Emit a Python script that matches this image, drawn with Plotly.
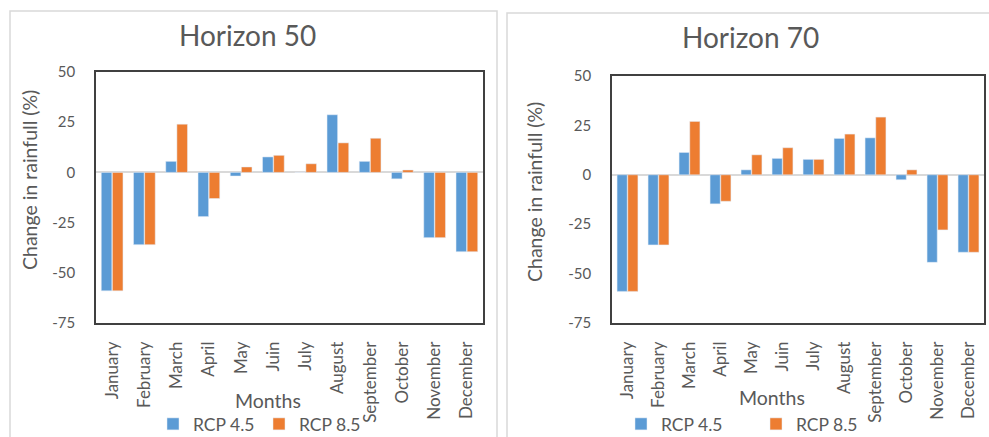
import plotly.graph_objects as go

months = ["January", "February", "March", "April", "May", "Juin", "July",
          "August", "September", "October", "November", "December"]

h50_rcp45 = [-59, -36, 5.5, -22, -1.8, 7.7, 0, 28.7, 5.5, -3.2, -32.5, -39.5]
h50_rcp85 = [-59, -36, 24, -13, 2.7, 8.5, 4.3, 14.7, 17, 1.2, -32.5, -39.5]

h70_rcp45 = [-59, -35.5, 11.3, -14.7, 2.5, 8.3, 7.8, 18.4, 18.7, -2.5, -44.3, -39.2]
h70_rcp85 = [-59, -35.5, 27, -13.4, 10.1, 13.7, 7.8, 20.6, 29.2, 2.5, -27.9, -39.2]

y_ticks = [-75, -50, -25, 0, 25, 50]
y_tick_text = ["-75", "-50", "-25", "0", "25", "50"]

BLUE = "#5B9BD5"
ORANGE = "#ED7D31"
GRAY = "#595959"
FONT = "Lato"

W, H = 989, 437

def px(x):
    return x / W

def py(y):
    return 1 - y / H

fig = go.Figure()

fig.add_trace(go.Bar(x=months, y=h50_rcp45, name="RCP 4.5", marker_color=BLUE,
                     xaxis="x", yaxis="y", legend="legend"))
fig.add_trace(go.Bar(x=months, y=h50_rcp85, name="RCP 8.5", marker_color=ORANGE,
                     xaxis="x", yaxis="y", legend="legend"))
fig.add_trace(go.Bar(x=months, y=h70_rcp45, name="RCP 4.5", marker_color=BLUE,
                     xaxis="x2", yaxis="y2", legend="legend2"))
fig.add_trace(go.Bar(x=months, y=h70_rcp85, name="RCP 8.5", marker_color=ORANGE,
                     xaxis="x2", yaxis="y2", legend="legend2"))

xcommon = dict(showline=True, mirror=True, linecolor="#404040", linewidth=1.5,
               showgrid=False, ticks="", tickangle=-90, automargin=False,
               tickfont=dict(family=FONT, size=17, color=GRAY),
               ticklabelstandoff=10, zeroline=False)
ycommon = dict(showline=True, mirror=True, linecolor="#404040", linewidth=1.5,
               showgrid=False, ticks="", range=[-75, 50], tickvals=y_ticks,
               ticktext=y_tick_text, automargin=False,
               tickfont=dict(family=FONT, size=15, color=GRAY),
               ticklabelstandoff=16, zeroline=True, zerolinecolor="#D9D9D9",
               zerolinewidth=2)

fig.update_layout(
    width=W, height=H,
    margin=dict(l=0, r=0, t=0, b=0, autoexpand=False),
    paper_bgcolor="white", plot_bgcolor="white",
    barmode="group", bargap=0.31, bargroupgap=0.05,
    font=dict(family=FONT, color=GRAY),
    xaxis=dict(domain=[px(96), px(483)], anchor="y", **xcommon),
    yaxis=dict(domain=[py(323), py(72)], anchor="x", **ycommon),
    xaxis2=dict(domain=[px(612), px(984)], anchor="y2", **xcommon),
    yaxis2=dict(domain=[py(323), py(76)], anchor="x2", **ycommon),
    legend=dict(orientation="h", x=px(153), y=py(424), xanchor="left", yanchor="middle",
                font=dict(family=FONT, size=17.5, color=GRAY), entrywidth=61,
                bgcolor="rgba(0,0,0,0)", itemclick=False),
    legend2=dict(orientation="h", x=px(621), y=py(424), xanchor="left", yanchor="middle",
                 font=dict(family=FONT, size=17.5, color=GRAY), entrywidth=90,
                 bgcolor="rgba(0,0,0,0)", itemclick=False),
    showlegend=True,
)

# panel borders
fig.add_shape(type="rect", xref="paper", yref="paper",
              x0=px(10), x1=px(497), y0=py(445), y1=py(11),
              line=dict(color="#D9D9D9", width=1.5), layer="below")
fig.add_shape(type="rect", xref="paper", yref="paper",
              x0=px(507), x1=px(995), y0=py(445), y1=py(13),
              line=dict(color="#D9D9D9", width=1.5), layer="below")

# titles
fig.add_annotation(text="Horizon 50", xref="paper", yref="paper", x=px(247), y=py(35),
                   showarrow=False, font=dict(family=FONT, size=28, color=GRAY),
                   xanchor="center", yanchor="middle")
fig.add_annotation(text="Horizon 70", xref="paper", yref="paper", x=px(750), y=py(37),
                   showarrow=False, font=dict(family=FONT, size=28, color=GRAY),
                   xanchor="center", yanchor="middle")

# axis titles
for xc, yc in [(29, 180), (535, 192)]:
    fig.add_annotation(text="Change in rainfull (%)", xref="paper", yref="paper",
                       x=px(xc), y=py(yc), showarrow=False, textangle=-90,
                       font=dict(family=FONT, size=19.5, color=GRAY),
                       xanchor="center", yanchor="middle")
for xc, yc in [(268, 400), (772, 397)]:
    fig.add_annotation(text="Months", xref="paper", yref="paper",
                       x=px(xc), y=py(yc), showarrow=False,
                       font=dict(family=FONT, size=19.5, color=GRAY),
                       xanchor="center", yanchor="middle")

fig.write_html(
    "out.html",
    config={"displayModeBar": False},
    post_script="document.body.style.margin='0';document.body.style.overflow='hidden';",
)
